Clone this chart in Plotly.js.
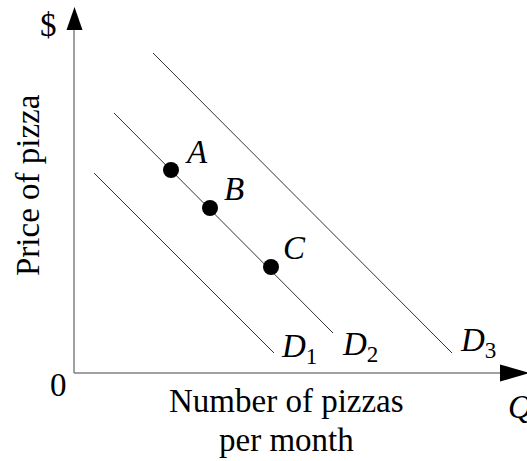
<!DOCTYPE html>
<html>
<head>
<meta charset="utf-8">
<script src="https://cdn.plot.ly/plotly-3.0.1.min.js"></script>
<style>html,body{margin:0;padding:0;background:#fff;}#chart{width:527px;height:461px;}</style>
</head>
<body>
<div id="chart"></div>
<script>
// Demand curves (quantity, price) endpoints
const d1Q = [2.0, 20.0];
const d1P = [20.0, 2.0];
const d2Q = [4.0, 25.9];
const d2P = [26.0, 4.0];
const d3Q = [7.9, 37.8];
const d3P = [32.0, 2.0];
// Points on D2
const pointLabels = ['A', 'B', 'C'];
const pointQ = [9.7, 13.6, 19.7];
const pointP = [20.3, 16.5, 10.6];
const curveLabels = ['D<sub>1</sub>', 'D<sub>2</sub>', 'D<sub>3</sub>'];

const FONT = 'Liberation Serif, Times New Roman, serif';
const FS = 33;
const W = 527, H = 461;
const X0 = 74, Y0 = 373, U = 10; // pixel origin and pixels per unit
const px = v => (v - X0) / U;
const py = v => (Y0 - v) / U;

const lineStyle = {color: '#333', width: 1};
const traces = [
  {x: d1Q, y: d1P, mode: 'lines', line: lineStyle, hoverinfo: 'skip'},
  {x: d2Q, y: d2P, mode: 'lines', line: lineStyle, hoverinfo: 'skip'},
  {x: d3Q, y: d3P, mode: 'lines', line: lineStyle, hoverinfo: 'skip'},
  {x: pointQ, y: pointP, mode: 'markers', marker: {color: '#000', size: 16}, hoverinfo: 'skip', cliponaxis: false}
];

const ann = (x, y, text, size, extra) => Object.assign({
  x: x, y: y, xref: 'x', yref: 'y', text: text, showarrow: false,
  font: {family: FONT, size: size, color: '#000'}, xanchor: 'center', yanchor: 'middle'
}, extra || {});

const labelOffsets = [[2.5, 1.8], [2.4, 1.9], [2.3, 1.9]];
const annotations = pointLabels.map((t, i) => ann(pointQ[i] + labelOffsets[i][0], pointP[i] + labelOffsets[i][1], '<i>' + t + '</i>', FS));
const curveEnds = [[d1Q[1], d1P[1]], [d2Q[1], d2P[1]], [d3Q[1], d3P[1]]];
const curveOffsets = [[2.5, 0.5], [2.7, -1.3], [2.6, 1.1]];
curveLabels.forEach((t, i) => {
  const parts = t.split('<sub>');
  annotations.push(ann(curveEnds[i][0] + curveOffsets[i][0], curveEnds[i][1] + curveOffsets[i][1], '<i>' + parts[0] + '</i><sub>' + parts[1], FS));
});
annotations.push(ann(px(58), py(385), '0', FS));
annotations.push(ann(px(48), py(25), '$', FS));
annotations.push(ann(px(28), py(185), 'Price of pizza', FS, {textangle: -90}));
annotations.push(ann(px(286), py(401), 'Number of pizzas', FS));
annotations.push(ann(px(286), py(440), 'per month', FS));
annotations.push(ann(px(506), py(407), '<i>Q</i>', FS, {xanchor: 'left'}));

const axisColor = '#808080';
const shapes = [
  {type: 'line', xref: 'x', yref: 'y', x0: 0, y0: 0, x1: px(505), y1: 0, line: {color: axisColor, width: 1.5}},
  {type: 'line', xref: 'x', yref: 'y', x0: 0, y0: 0, x1: 0, y1: py(25), line: {color: axisColor, width: 1.5}},
  {type: 'path', xref: 'x', yref: 'y', path: `M ${px(66.5)} ${py(30)} L ${px(82.5)} ${py(30)} L ${px(74.5)} ${py(7)} Z`, fillcolor: '#000', line: {width: 0}},
  {type: 'path', xref: 'x', yref: 'y', path: `M ${px(500)} ${py(364.5)} L ${px(500)} ${py(381.5)} L ${px(530)} ${py(373)} Z`, fillcolor: '#000', line: {width: 0}}
];

const layout = {
  width: W, height: H,
  margin: {l: 0, r: 0, t: 0, b: 0, pad: 0},
  paper_bgcolor: '#fff', plot_bgcolor: 'rgba(0,0,0,0)',
  showlegend: false,
  xaxis: {range: [px(0), px(W)], visible: false, fixedrange: true},
  yaxis: {range: [py(H), py(0)], visible: false, fixedrange: true},
  annotations: annotations,
  shapes: shapes
};
Plotly.newPlot('chart', traces, layout, {staticPlot: true, displayModeBar: false});
</script>
</body>
</html>
